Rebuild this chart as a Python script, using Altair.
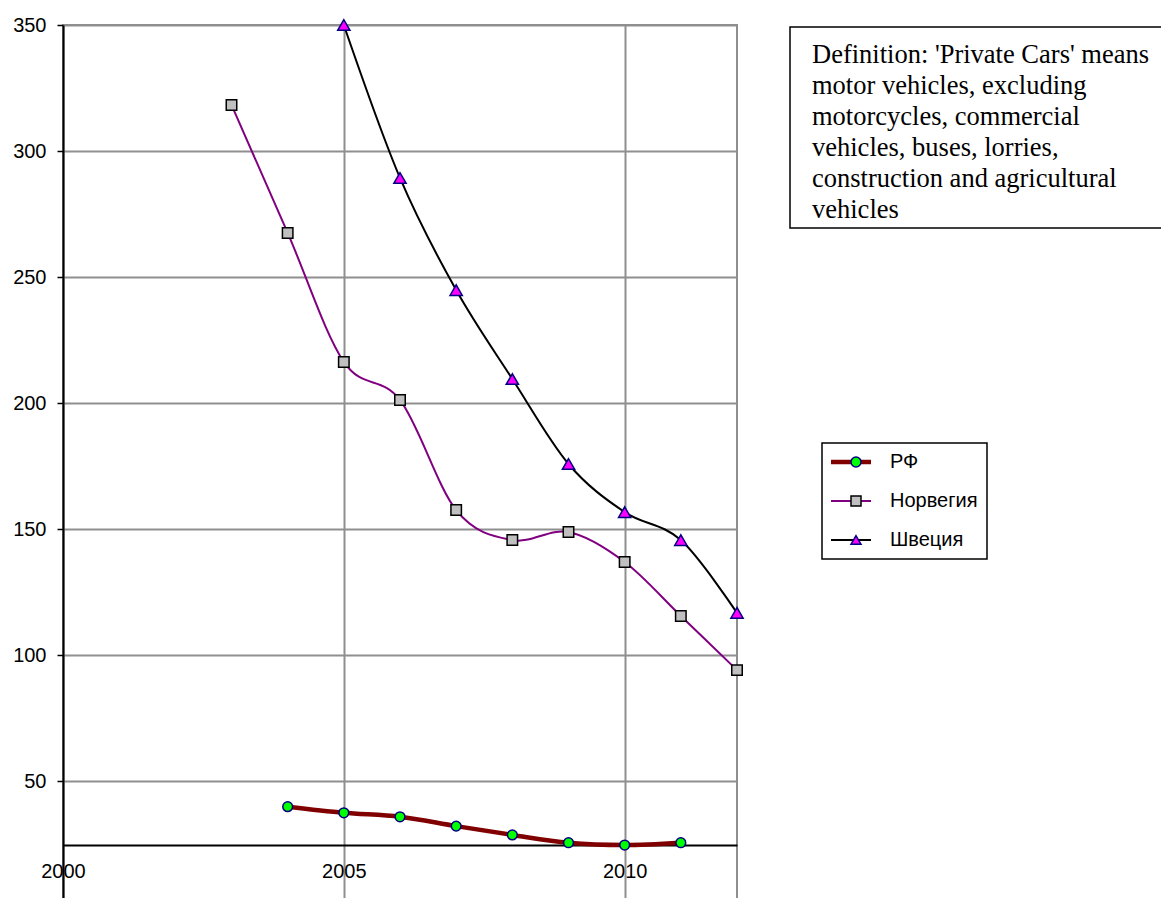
import altair as alt
import pandas as pd

# ---------------- data ----------------
series_names = ["РФ", "Норвегия", "Швеция"]

years_rf = [2004, 2005, 2006, 2007, 2008, 2009, 2010, 2011]
values_rf = [39.8, 37.4, 35.8, 32.1, 28.6, 25.5, 24.6, 25.5]

years_no = [2003, 2004, 2005, 2006, 2007, 2008, 2009, 2010, 2011, 2012]
values_no = [318.3, 267.5, 216.3, 201.2, 157.5, 145.6, 148.8, 136.9, 115.5, 94.0]

years_se = [2005, 2006, 2007, 2008, 2009, 2010, 2011, 2012]
values_se = [350.0, 289.3, 244.8, 209.5, 175.8, 156.7, 145.6, 116.7]

x_tick_values = [2000, 2005, 2010]
y_tick_values = [0, 50, 100, 150, 200, 250, 300, 350]
x_axis_crossing = 24.6

note_lines = [
    "Definition: 'Private Cars' means",
    "motor vehicles, excluding",
    "motorcycles, commercial",
    "vehicles, buses, lorries,",
    "construction and agricultural",
    "vehicles",
]

# ---------------- styles ----------------
line_colors = ["#800000", "#800080", "#000000"]
line_widths = [4.5, 2.0, 2.0]
marker_fill = ["#00ff00", "#c0c0c0", "#ff00ff"]
marker_stroke = ["#000080", "#000000", "#000080"]
marker_shapes = ["circle", "square", "triangle-up"]
marker_sizes = [95, 110, 150]
# legend line swatches (custom symbol paths, thick for РФ)
legend_line_paths = [
    "M-5.8,-0.45L5.8,-0.45L5.8,0.45L-5.8,0.45Z",
    "M-5.8,-0.2L5.8,-0.2L5.8,0.2L-5.8,0.2Z",
    "M-5.8,-0.2L5.8,-0.2L5.8,0.2L-5.8,0.2Z",
]

W, H = 674, 882
GRID = "#8f8f8f"

rows = []
for i, (name, ys, vs) in enumerate(zip(series_names,
                                       [years_rf, years_no, years_se],
                                       [values_rf, values_no, values_se])):
    for yr, v in zip(ys, vs):
        rows.append({"series": name, "order": i, "year": yr, "value": v,
                     "lw": line_widths[i], "msize": marker_sizes[i]})
df = pd.DataFrame(rows)

x_axis = alt.Axis(values=x_tick_values, format="d", title=None, ticks=False,
                  labelFlush=False, labelPadding=16, offset=-H * x_axis_crossing / 350,
                  domainColor="black", domainWidth=2, grid=True,
                  gridColor=GRID, gridWidth=2)
y_axis = alt.Axis(values=y_tick_values, title=None, tickSize=6, tickColor="black",
                  tickWidth=1.5, labelPadding=11, domainColor="black", domainWidth=2,
                  grid=True, gridColor=GRID, gridWidth=2)

x_enc = alt.X("year:Q", scale=alt.Scale(domain=[2000, 2012], nice=False, zero=False), axis=x_axis)
y_enc = alt.Y("value:Q", scale=alt.Scale(domain=[0, 350], nice=False), axis=y_axis)

LX, LY = 759, 418

legend_lines = alt.Legend(
    title=None, orient="none", legendX=LX, legendY=LY, padding=9, rowPadding=19,
    clipHeight=20, symbolSize=100, symbolOffset=16, symbolStrokeWidth=0,
    labelExpr="''", labelFont="Liberation Sans", labelFontSize=20,
)

legend_markers = alt.Legend(
    title=None, orient="none", legendX=LX, legendY=LY, padding=9, rowPadding=19,
    clipHeight=20, symbolSize=100, symbolStrokeWidth=1.5, symbolOffset=15, labelOffset=24,
    labelFont="Liberation Sans", labelFontSize=20, labelColor="black",
    strokeColor="black",
)

order_sort = alt.EncodingSortField(field="order", op="min")

lines = alt.Chart(df).mark_line(interpolate="cardinal", tension=0).encode(
    x=x_enc, y=y_enc,
    color=alt.Color("series:N", scale=alt.Scale(domain=series_names, range=line_colors),
                    legend=None),
    strokeWidth=alt.StrokeWidth("lw:Q", scale=None),
)

# legend-only layer: no rows survive the filter, the scales' explicit domains feed the legend
line_legend = alt.Chart(df).transform_filter("false").mark_point(filled=True, opacity=1).encode(
    x=x_enc, y=y_enc,
    shape=alt.Shape("series:N", scale=alt.Scale(domain=series_names, range=legend_line_paths),
                    legend=legend_lines),
    fill=alt.Fill("series:N", scale=alt.Scale(domain=series_names, range=line_colors),
                  legend=legend_lines),
)

points = alt.Chart(df).mark_point(filled=True, opacity=1, strokeWidth=1.5).encode(
    x=x_enc, y=y_enc,
    shape=alt.Shape("mseries:N", sort=order_sort, scale=alt.Scale(range=marker_shapes),
                    legend=legend_markers),
    fill=alt.Fill("mseries:N", sort=order_sort, scale=alt.Scale(range=marker_fill),
                  legend=legend_markers),
    stroke=alt.Stroke("mseries:N", sort=order_sort, scale=alt.Scale(range=marker_stroke),
                      legend=legend_markers),
    size=alt.Size("msize:Q", scale=None),
).transform_calculate(mseries="datum.series")

one = pd.DataFrame({"k": [0]})
box = alt.Chart(one).mark_rect(fillOpacity=0, stroke="black", strokeWidth=1.5).encode(
    x=alt.value(727), x2=alt.value(1130), y=alt.value(2), y2=alt.value(203))
note = alt.Chart(one).mark_text(align="left", baseline="alphabetic",
                                font="Liberation Serif", fontSize=26.5,
                                lineHeight=31, color="black").encode(
    x=alt.value(749), y=alt.value(38), text=alt.value(note_lines))

chart = alt.layer(lines, line_legend, points, box, note).resolve_scale(
    shape="independent", fill="independent", stroke="independent"
).resolve_legend(
    shape="independent", fill="independent", stroke="independent"
).properties(
    width=W, height=H,
    padding={"left": 55, "top": 17, "right": 424, "bottom": -9},
    autosize=alt.AutoSizeParams(type="none"),
).configure_view(
    stroke=GRID, strokeWidth=2
).configure_axis(
    labelFont="Liberation Sans", labelFontSize=20, labelColor="black"
).configure_legend(
    strokeWidth=1.5
)

chart.save("out.html", embed_options={"renderer": "svg", "actions": False})
